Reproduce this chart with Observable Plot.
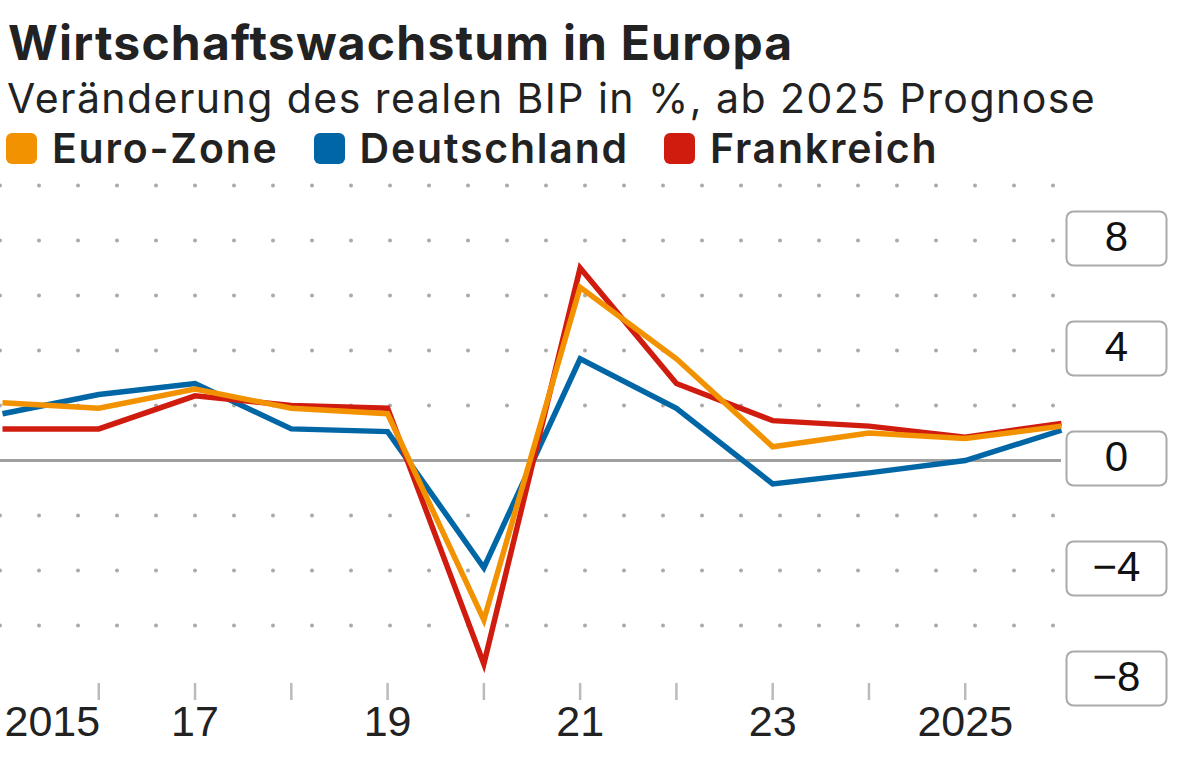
<!DOCTYPE html>
<html>
<head>
<meta charset="utf-8">
<script src="https://cdn.jsdelivr.net/npm/d3@7"></script>
<script src="https://cdn.jsdelivr.net/npm/@observablehq/plot@0.6"></script>
<style>
  body { margin: 0; background: #fff; width: 1200px; height: 765px; overflow: hidden; position: relative; font-family: Inter, "Noto Sans", sans-serif; color: #222; }
  #title { position: absolute; left: 8px; top: 13px; font-size: 48px; font-weight: 700; letter-spacing: 1.2px; white-space: nowrap; }
  #subtitle { position: absolute; left: 7px; top: 73px; font-size: 41px; font-weight: 400; letter-spacing: 1.45px; white-space: nowrap; }
  #legend { position: absolute; left: 6px; top: 123px; display: flex; align-items: center; font-size: 41px; font-weight: 600; letter-spacing: 1.8px; white-space: nowrap; }
  .item { display: flex; align-items: center; margin-right: 35px; }
  .sw { width: 31px; height: 31px; border-radius: 6px; margin-right: 15px; }
  #chart { position: absolute; left: 0; top: 170px; }
</style>
</head>
<body>
<div id="title">Wirtschaftswachstum in Europa</div>
<div id="subtitle">Veränderung des realen BIP in %, ab 2025 Prognose</div>
<div id="legend"></div>
<div id="chart"></div>
<script>
const years = [2015, 2016, 2017, 2018, 2019, 2020, 2021, 2022, 2023, 2024, 2025, 2026];
const euroZone = [2.1, 1.9, 2.6, 1.9, 1.7, -5.8, 6.3, 3.7, 0.5, 1.0, 0.8, 1.25];
const deutschland = [1.7, 2.4, 2.8, 1.15, 1.05, -3.9, 3.7, 1.9, -0.85, -0.45, 0.0, 1.1];
const frankreich = [1.15, 1.15, 2.35, 2.0, 1.9, -7.4, 7.0, 2.8, 1.45, 1.25, 0.85, 1.35];

const seriesNames = ["Euro-Zone", "Deutschland", "Frankreich"];
const seriesColors = ["#f39200", "#0066a6", "#d01c0f"];

const yTicks = [8, 4, 0, -4, -8];
const gridValues = [10, 8, 6, 4, 2, -2, -4, -6];
const xTickYears = [2016, 2017, 2018, 2019, 2020, 2021, 2022, 2023, 2024, 2025];
const xLabelYears = [2017, 2019, 2021, 2023, 2025];
const xLabelTexts = ["17", "19", "21", "23", "2025"];
const firstLabel = "2015";

// legend
const legend = document.getElementById("legend");
seriesNames.forEach((n, i) => {
  const it = document.createElement("div");
  it.className = "item";
  it.innerHTML = `<div class="sw" style="background:${seriesColors[i]}"></div><span>${n}</span>`;
  legend.appendChild(it);
});

const rows = [];
const allSeries = [euroZone, deutschland, frankreich];
allSeries.forEach((vals, s) => years.forEach((yr, i) => rows.push({year: yr, value: vals[i], series: seriesNames[s]})));

const drawOrder = ["Deutschland", "Frankreich", "Euro-Zone"];

const roundedBox = {
  draw(ctx) {
    const w = 50, h = 27, r = 7;
    ctx.moveTo(-w + r, -h);
    ctx.lineTo(w - r, -h);
    ctx.arcTo(w, -h, w, -h + r, r);
    ctx.lineTo(w, h - r);
    ctx.arcTo(w, h, w - r, h, r);
    ctx.lineTo(-w + r, h);
    ctx.arcTo(-w, h, -w, h - r, r);
    ctx.lineTo(-w, -h + r);
    ctx.arcTo(-w, -h, -w + r, -h, r);
    ctx.closePath();
  }
};

const fmt = d => d < 0 ? "\u2212" + Math.abs(d) : String(d);

const chart = Plot.plot({
  width: 1200,
  height: 595,
  marginLeft: 0,
  marginRight: 139,
  marginTop: 15,
  marginBottom: 82,
  x: {domain: [2015, 2026], range: [2, 1061], axis: null},
  y: {domain: [-8, 10], range: [510, 15], axis: null},
  marks: [
    Plot.ruleY(gridValues, {stroke: "#aaa", strokeWidth: 4, strokeDasharray: "0 39", strokeLinecap: "round"}),
    Plot.ruleY([0], {stroke: "#a0a0a0", strokeWidth: 3}),
    ...drawOrder.map(name => Plot.line(rows.filter(r => r.series === name), {
      x: "year", y: "value",
      stroke: seriesColors[seriesNames.indexOf(name)],
      strokeWidth: 5.5, strokeLinejoin: "miter", strokeMiterlimit: 10, strokeLinecap: "butt"
    })),
    Plot.axisX({ticks: xTickYears, tickSize: 17, tickFormat: () => "", label: null, stroke: "#bbb", strokeWidth: 2.5, strokeOpacity: 1}),
    Plot.text(xLabelYears, {x: d => d, text: (d, i) => xLabelTexts[i], frameAnchor: "bottom", dy: 39, lineAnchor: "middle", textAnchor: "middle", fontSize: 43, fontFamily: "Liberation Sans, Arial, sans-serif", fill: "#222"}),
    Plot.text([years[0]], {x: d => d, text: () => firstLabel, frameAnchor: "bottom", dy: 39, dx: 2, lineAnchor: "middle", textAnchor: "start", fontSize: 43, fontFamily: "Liberation Sans, Arial, sans-serif", fill: "#222"}),
    Plot.dot(yTicks, {y: d => d, frameAnchor: "right", dx: 55, dy: -2, symbol: roundedBox, fill: "white", stroke: "#aaa", strokeWidth: 2}),
    Plot.text(yTicks, {y: d => d, frameAnchor: "right", dx: 55, dy: -3, text: fmt, textAnchor: "middle", fontSize: 42, fontFamily: "Liberation Sans, Arial, sans-serif", fill: "#111", lineAnchor: "middle"})
  ]
});
document.getElementById("chart").appendChild(chart);
</script>
</body>
</html>
